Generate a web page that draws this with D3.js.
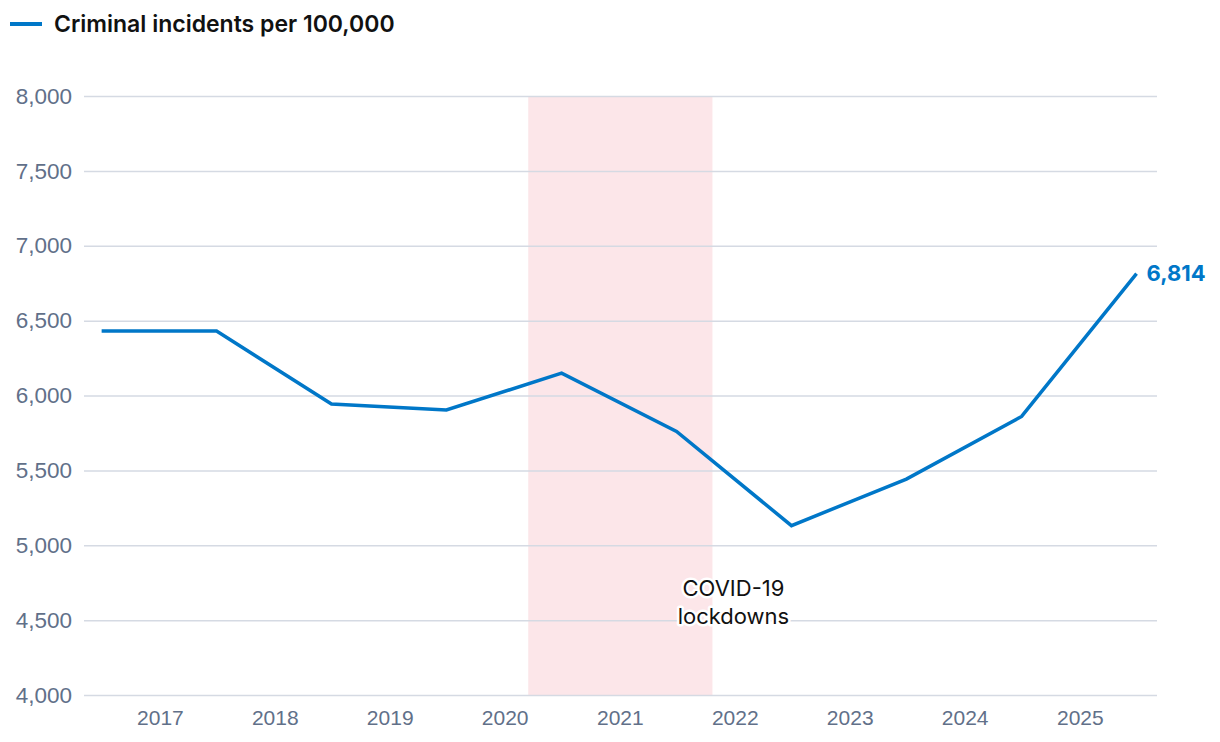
<!DOCTYPE html>
<html>
<head>
<meta charset="utf-8">
<script src="https://cdn.jsdelivr.net/npm/d3@7"></script>
<style>
  body { margin: 0; background: #fff; }
  svg { font-family: Inter, "Noto Sans", sans-serif; }
</style>
</head>
<body>
<svg id="chart" width="1220" height="742"></svg>
<script>
// year-ending-June figures
const years = [2016, 2017, 2018, 2019, 2020, 2021, 2022, 2023, 2024, 2025];
const incidents = [6430, 6430, 5943, 5903, 6149, 5760, 5131, 5442, 5860, 6814];
const yTicks = [4000, 4500, 5000, 5500, 6000, 6500, 7000, 7500, 8000];
const xTickYears = [2017, 2018, 2019, 2020, 2021, 2022, 2023, 2024, 2025];
const lockdown = [new Date(2020, 2, 16), new Date(2021, 9, 22)];
const seriesName = "Criminal incidents per 100,000";

const svg = d3.select("#chart");
const margin = { top: 96, right: 63, bottom: 47, left: 84 };
const width = 1220, height = 742;

const data = years.map((y, i) => ({ date: new Date(y, 5, 30), value: incidents[i] }));

const x = d3.scaleTime()
  .domain([new Date(2016, 4, 5), new Date(2025, 8, 3)])
  .range([margin.left, width - margin.right]);

const y = d3.scaleLinear()
  .domain([4000, 8000])
  .range([height - margin.bottom, margin.top]);

// --- LOCKDOWN BAND ---
svg.append("rect")
  .attr("x", x(lockdown[0]))
  .attr("width", x(lockdown[1]) - x(lockdown[0]))
  .attr("y", y(8000))
  .attr("height", y(4000) - y(8000))
  .attr("fill", "#fce6e9");

// --- GRID + Y AXIS ---
const yAxis = svg.append("g")
  .attr("transform", `translate(${margin.left},0)`)
  .call(d3.axisLeft(y).tickValues(yTicks).tickFormat(d3.format(","))
    .tickSize(-(width - margin.left - margin.right)).tickPadding(12));
yAxis.select(".domain").remove();
yAxis.selectAll("line").attr("stroke", "#d5dae3").attr("stroke-width", 1.5);
yAxis.selectAll("text")
  .attr("fill", "#617089")
  .attr("font-size", 22.5);

// --- X AXIS ---
const xAxis = svg.append("g")
  .attr("transform", `translate(0,${height - margin.bottom})`)
  .call(d3.axisBottom(x).tickValues(xTickYears.map(d => new Date(d, 0, 1)))
    .tickFormat(d3.timeFormat("%Y")).tickSize(0).tickPadding(15));
xAxis.select(".domain").remove();
xAxis.selectAll("text")
  .attr("fill", "#617089")
  .attr("font-size", 21);

// --- ANNOTATION ---
const noteX = x(lockdown[1]) + 21;
const note = svg.append("text")
  .attr("x", noteX)
  .attr("y", y(4500) - 24)
  .attr("text-anchor", "middle")
  .attr("font-size", 22)
  .attr("fill", "#111")
  .attr("stroke", "#fff")
  .attr("stroke-width", 5)
  .attr("stroke-linejoin", "round")
  .attr("paint-order", "stroke");
note.append("tspan").attr("x", noteX).attr("dy", 0).text("COVID-19");
note.append("tspan").attr("x", noteX).attr("dy", 28).text("lockdowns");

// --- LINE ---
const line = d3.line().x(d => x(d.date)).y(d => y(d.value));
svg.append("path")
  .datum(data)
  .attr("fill", "none")
  .attr("stroke", "#0077c8")
  .attr("stroke-width", 3.5)
  .attr("stroke-linejoin", "miter")
  .attr("d", line);

const last = data[data.length - 1];
svg.append("text")
  .attr("x", x(last.date) + 10)
  .attr("y", y(last.value))
  .attr("dy", "0.35em")
  .attr("font-size", 22)
  .attr("font-weight", 700)
  .attr("fill", "#0077c8")
  .text(d3.format(",")(last.value));

// --- LEGEND ---
const legend = svg.append("g").attr("transform", "translate(10,24)");
legend.append("line")
  .attr("x1", 0).attr("x2", 32)
  .attr("stroke", "#0077c8").attr("stroke-width", 4);
legend.append("text")
  .attr("x", 44).attr("dy", "0.35em")
  .attr("font-size", 23)
  .attr("font-weight", 600)
  .attr("fill", "#111")
  .text(seriesName);
</script>
</body>
</html>
